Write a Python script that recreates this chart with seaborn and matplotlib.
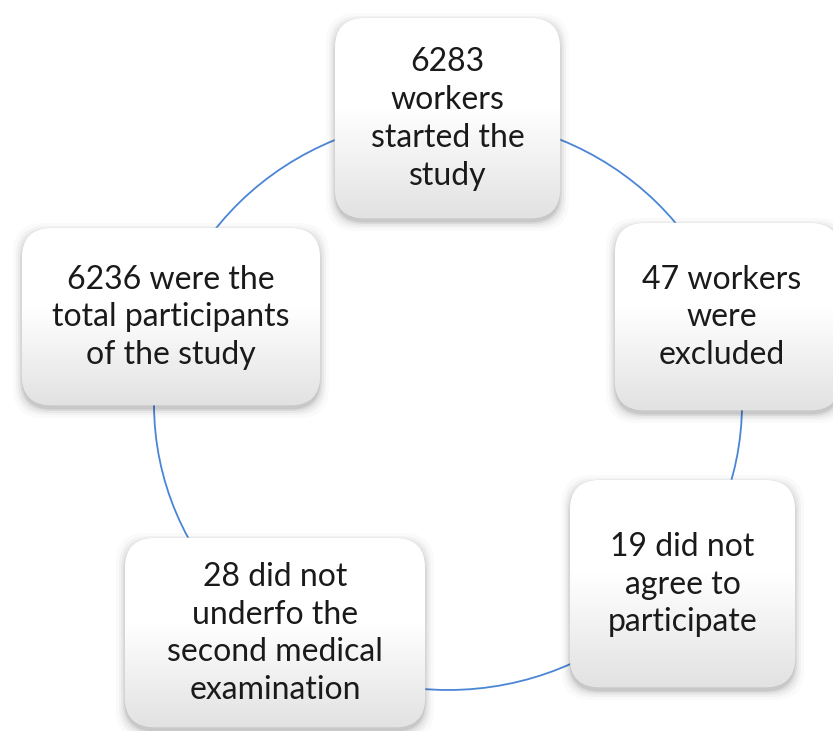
import numpy as np
import matplotlib
matplotlib.use("Agg")
import matplotlib.pyplot as plt
import seaborn as sns
from matplotlib.patches import FancyBboxPatch, Ellipse
from matplotlib.colors import LinearSegmentedColormap

sns.set_theme(style="white")
plt.rcParams['font.family'] = ['Lato', 'DejaVu Sans']

# ---- data ----
labels = [
    "6283\nworkers\nstarted the\nstudy",
    "47 workers\nwere\nexcluded",
    "19 did not\nagree to\nparticipate",
    "28 did not\nunderfo the\nsecond medical\nexamination",
    "6236 were the\ntotal participants\nof the study",
]
# box geometry (pixels: left, top, right, bottom)
box_left = [335, 615, 570, 125, 22]
box_top = [18, 223, 480, 538, 228]
box_right = [560, 840, 795, 425, 320]
box_bottom = [218, 410, 687, 727, 405]

W, H = 833, 731
fig = plt.figure(figsize=(W / 100, H / 100), dpi=100)
ax = fig.add_axes([0, 0, 1, 1])
ax.set_xlim(0, W)
ax.set_ylim(H, 0)
ax.axis("off")

# cycle ring
ring = Ellipse((448, 404), 2 * 294, 2 * 286, fill=False, edgecolor="#4a86d6",
               linewidth=1.3, zorder=1)
ax.add_patch(ring)

grad = np.linspace(0, 1, 256)
grad = np.where(grad < 0.45, 1.0, 1.0 - (grad - 0.45) / 0.55 * 0.10)
grad_img = np.tile(grad[:, None], (1, 2))
cmap = LinearSegmentedColormap.from_list("g", ["#e2e2e2", "#ffffff"])

r = 30
for i, lab in enumerate(labels):
    x0, y0, x1, y1 = box_left[i], box_top[i], box_right[i], box_bottom[i]
    w, h = x1 - x0, y1 - y0
    # soft glow / shadow
    for k, a in [(10, 0.02), (7, 0.03), (5, 0.04), (3, 0.06), (1.5, 0.08)]:
        sh = FancyBboxPatch((x0 + r - k + 1, y0 + r - k + 5), w - 2 * r + 2 * k - 2,
                            h - 2 * r + 2 * k - 2,
                            boxstyle=f"round,pad={r}", facecolor="black",
                            edgecolor="none", alpha=a, zorder=2)
        ax.add_patch(sh)
    # main box
    box = FancyBboxPatch((x0 + r, y0 + r), w - 2 * r, h - 2 * r,
                         boxstyle=f"round,pad={r}", facecolor="white",
                         edgecolor="#e0e0e0", linewidth=0.5, zorder=3)
    ax.add_patch(box)
    im = ax.imshow(grad_img, extent=(x0, x1, y1, y0), cmap=cmap, vmin=0.9, vmax=1.0,
                   aspect="auto", zorder=3.5, interpolation="bilinear")
    im.set_clip_path(box)
    cx = (x0 + min(x1, W - 5)) / 2 if i == 1 else (x0 + x1) / 2
    ax.text(cx, (y0 + y1) / 2 + 1, lab, ha="center", va="center", fontsize=23,
            color="#1a1a1a", linespacing=1.32, zorder=5)

ax.set_xlim(0, W)
ax.set_ylim(H, 0)
fig.savefig("out.png", dpi=100, facecolor="white")
